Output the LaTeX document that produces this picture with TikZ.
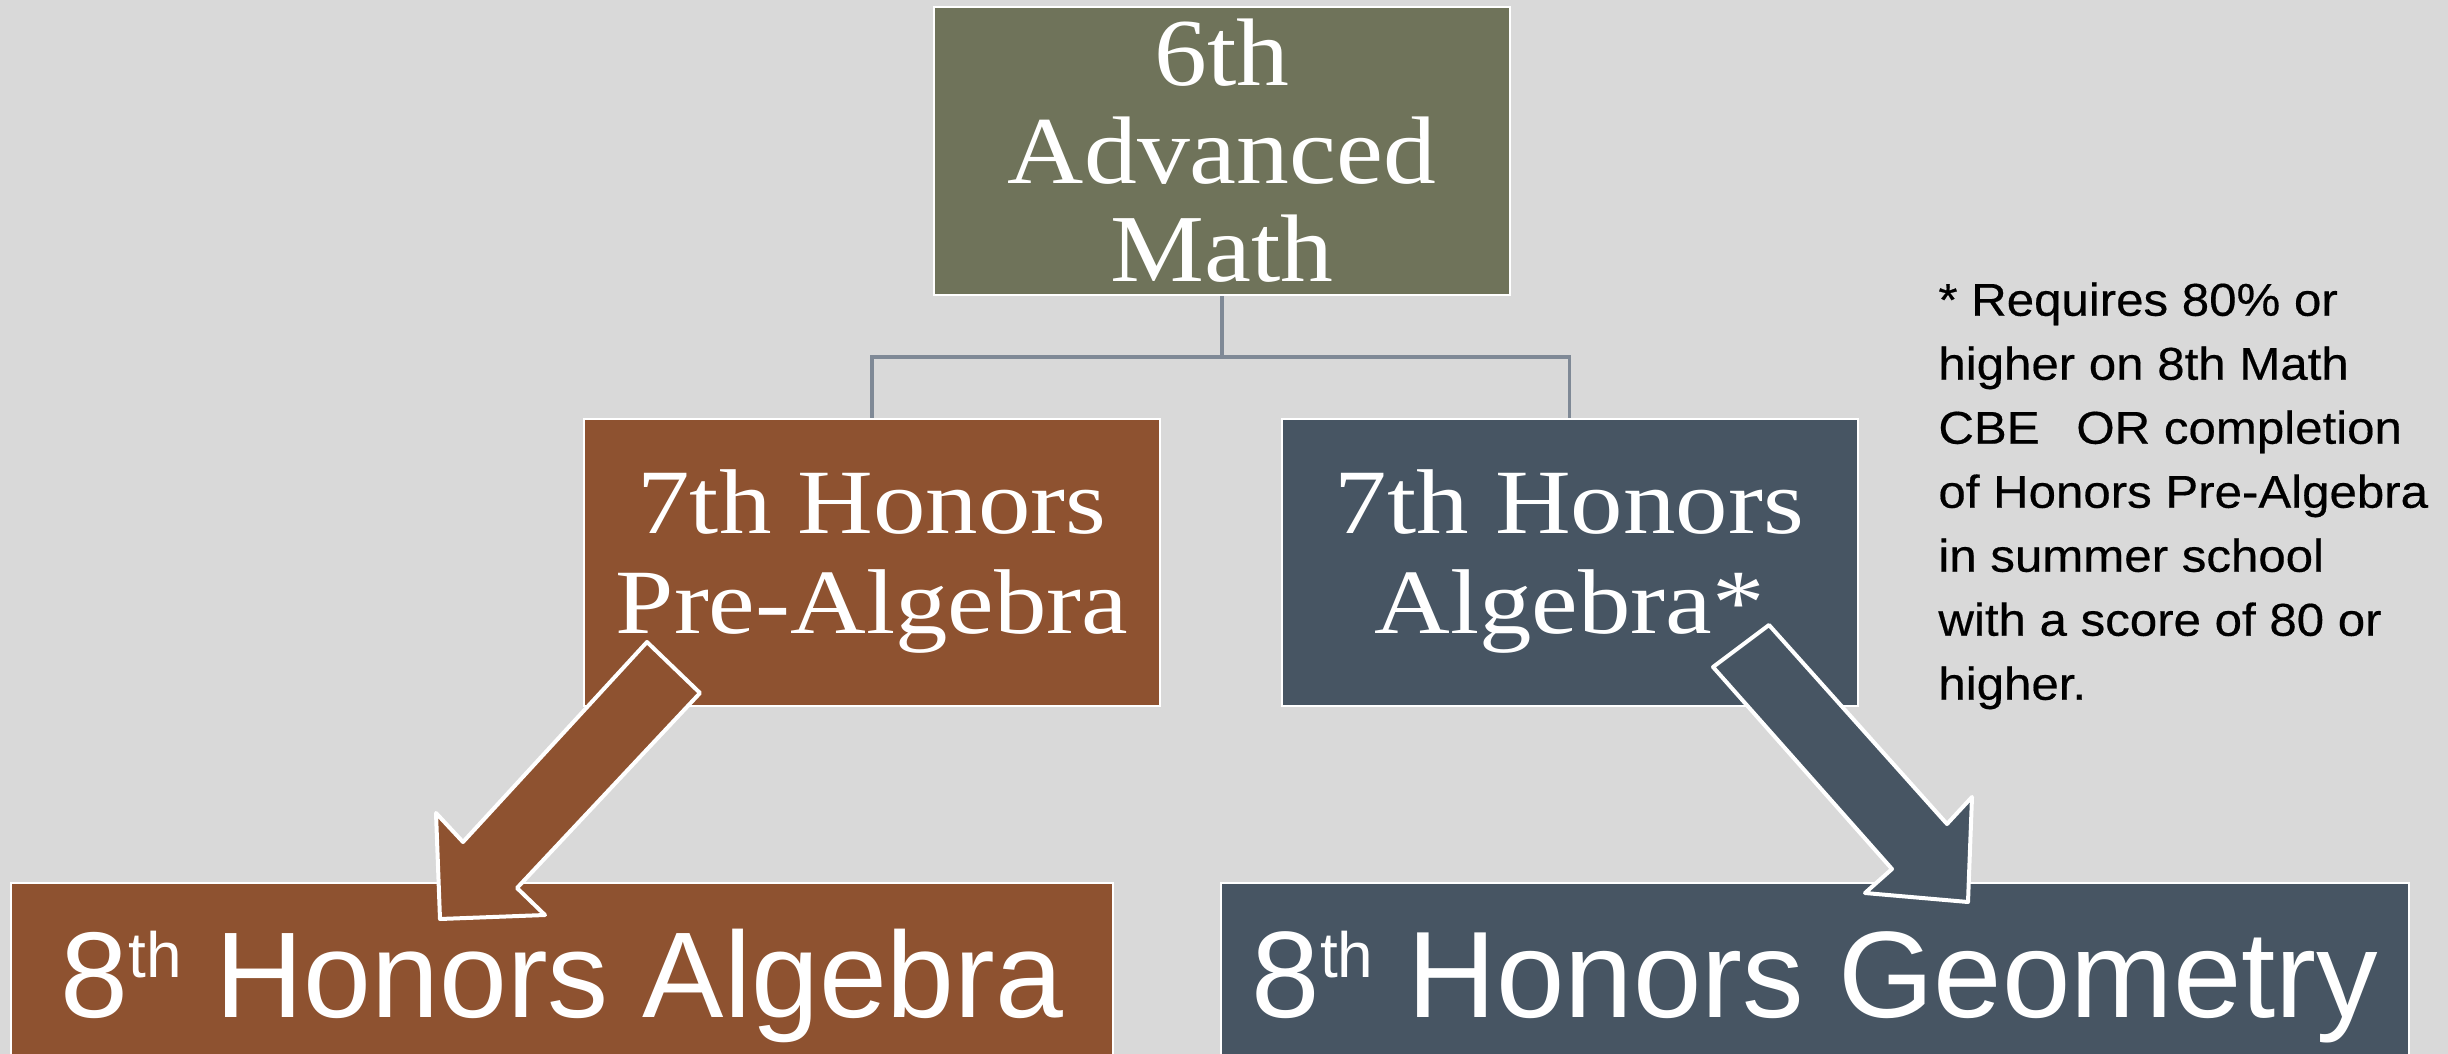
\documentclass[tikz,border=0pt]{standalone}
\usepackage{fontspec}
\setmainfont{Liberation Serif}[FakeStretch=1.1]
\newfontfamily\wideserif{Liberation Serif}[FakeStretch=1.14]
\newfontfamily\boxsans{Liberation Sans}
\newfontfamily\notesans{Liberation Sans}[FakeStretch=1.07,FakeBold=0.4]
\definecolor{bgc}{HTML}{D9D9D9}
\definecolor{olivec}{HTML}{6F735A}
\definecolor{brownc}{HTML}{8E5230}
\definecolor{slatec}{HTML}{475563}
\definecolor{connc}{HTML}{7F8996}
\tikzset{
  boxnode/.style={draw=white, line width=1pt, text=white, inner sep=0pt, align=center},
  connline/.style={draw=connc, line width=1.7pt},
  blockarrow/.style={draw=white, line width=2pt, line join=round},
}
\begin{document}
\begin{tikzpicture}[x=0.5pt,y=-0.5pt]
\fill[bgc] (0,0) rectangle (2448,1054);
\useasboundingbox (0,0) rectangle (2448,1054);
\clip (0,0) rectangle (2448,1054);

\node[boxnode, fill=olivec, minimum width=288pt, minimum height=144pt,
      font=\fontsize{48}{49}\selectfont] (top) at (1222,151) {6th\\Advanced\\Math};
\node[boxnode, fill=brownc, minimum width=288pt, minimum height=143.5pt,
      font=\wideserif\fontsize{46}{50}\selectfont] (pa) at (872,562) {7th Honors\\Pre-Algebra};
\node[boxnode, fill=slatec, minimum width=288pt, minimum height=143.5pt,
      font=\wideserif\fontsize{46}{50}\selectfont] (ha) at (1569.5,562) {7th Honors\\Algebra*};

\coordinate (jy) at (0,357);
\coordinate (j) at (top.south |- jy);
\draw[connline] (top.south) -- (j);
\draw[connline] (pa.north) |- (j) -| (ha.north);

\node[boxnode, fill=brownc, minimum width=551pt, text height=67pt, text depth=45pt,
      anchor=base, font=\boxsans\fontsize{61}{61}\selectfont] (a8) at (562,1017)
      {8\raisebox{20pt}{\fontsize{32}{32}\selectfont th} Honors Algebra};
\node[boxnode, fill=slatec, minimum width=594pt, text height=67pt, text depth=45pt,
      anchor=base, font=\boxsans\fontsize{61.5}{61.5}\selectfont] (g8) at (1815,1017)
      {8\raisebox{20pt}{\fontsize{32}{32}\selectfont th} Honors Geometry};

\node[anchor=north west, inner sep=0pt, align=left,
      font=\notesans\fontsize{23}{32}\selectfont] (note) at (1938,282)
      {* Requires 80\% or\\higher on 8th Math\\CBE\hspace{0.8em}OR completion\\of Honors Pre-Algebra\\in summer school\\with a score of 80 or\\higher.};

\draw[blockarrow, fill=brownc] (647,642) -- (700,693) -- (517,888) -- (545,915)
   -- (440,919) -- (436,813) -- (463,842) -- cycle;
\draw[blockarrow, fill=slatec] (1769,625) -- (1713,667) -- (1892,869) -- (1865,893)
   -- (1968,902) -- (1972,797) -- (1947,824) -- cycle;
\end{tikzpicture}
\end{document}
